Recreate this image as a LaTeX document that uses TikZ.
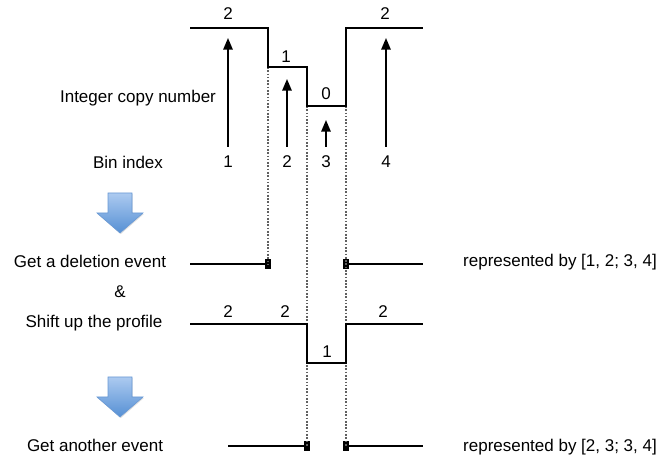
\documentclass[tikz,border=0pt]{standalone}
\usepackage{fontspec}
\setmainfont{Liberation Sans}
\usetikzlibrary{arrows.meta,shadows}
\definecolor{arrowtop}{RGB}{172,202,240}
\definecolor{arrowbot}{RGB}{86,144,212}
\definecolor{arrowrim}{RGB}{104,152,212}

\begin{document}
\begin{tikzpicture}[x=0.03cm,y=-0.03cm,
  txt/.style={inner sep=0,anchor=base,font=\fontsize{14.5}{17}\selectfont},
  prof/.style={line width=1.8pt,line join=miter},
  uparrow/.style={line width=1.6pt,-{Triangle[length=10pt,width=8pt]}},
  guide/.style={line width=1.4pt,gray!75!black,dash pattern=on 1.4pt off 1.4pt},
  seg/.style={line width=1.6pt},
  tickmark/.style={fill=black,inner sep=0,minimum width=0.16cm,minimum height=0.32cm},
  bigarrow/.style={top color=arrowtop,bottom color=arrowbot,draw=arrowrim,line width=0.5pt,
    drop shadow={opacity=0.25,shadow xshift=0.6pt,shadow yshift=-1pt}}]
\useasboundingbox (0,0) rectangle (665,456);

% profile before the event
\coordinate (p1) at (190,28);
\coordinate (p2) at (268,28);
\coordinate (p3) at (268,67);
\coordinate (p4) at (307,67);
\coordinate (p5) at (307,106);
\coordinate (p6) at (346,106);
\coordinate (p7) at (346,28);
\coordinate (p8) at (423,28);

% profile after the shift
\coordinate (q1) at (190,324);
\coordinate (q2) at (307,324);
\coordinate (q3) at (307,363);
\coordinate (q4) at (346,363);
\coordinate (q5) at (346,324);
\coordinate (q6) at (423,324);

% event rows
\coordinate (dL) at (190,264);
\node[tickmark] (dA) at (268,264){};
\node[tickmark] (dB) at (346,264){};
\coordinate (dR) at (423,264);
\coordinate (eL) at (228,446);
\node[tickmark] (eA) at (307,446){};
\node[tickmark] (eB) at (346,446){};
\coordinate (eR) at (423,446);

% dotted guides
\draw[guide] (p3) -- (dA.center);
\draw[guide] (p5) -- (eA.center);
\draw[guide] (p6) -- (eB.center);

\draw[prof] (p1) -- (p2) -- (p3) -- (p4) -- (p5) -- (p6) -- (p7) -- (p8);
\draw[prof] (q1) -- (q2) -- (q3) -- (q4) -- (q5) -- (q6);

\draw[seg] (dL) -- (dA);
\draw[seg] (dB) -- (dR);
\draw[seg] (eL) -- (eA);
\draw[seg] (eB) -- (eR);

% copy number arrows
\coordinate (t1) at (228,147);
\coordinate (h1) at (228,38);
\coordinate (t2) at (287,147);
\coordinate (h2) at (287,79);
\coordinate (t3) at (326,147);
\coordinate (h3) at (326,120);
\coordinate (t4) at (386,147);
\coordinate (h4) at (386,38);
\draw[uparrow] (t1) -- (h1);
\draw[uparrow] (t2) -- (h2);
\draw[uparrow] (t3) -- (h3);
\draw[uparrow] (t4) -- (h4);

% copy numbers
\node[txt] (cn2a) at (228,20){2};
\node[txt] (cn1) at (286,63){1};
\node[txt] (cn0) at (326,100){0};
\node[txt] (cn2b) at (385,20){2};
\node[txt] (cs2a) at (228,318){2};
\node[txt] (cs2b) at (285,318){2};
\node[txt] (cs1) at (327,358){1};
\node[txt] (cs2c) at (383,318){2};

% bin indices
\node[txt] (bin1) at (228,168){1};
\node[txt] (bin2) at (287,168){2};
\node[txt] (bin3) at (326,168){3};
\node[txt] (bin4) at (386,168){4};

% left labels
\node[txt] (ylab) at (138,103){Integer copy number};
\node[txt] (xlab) at (128,169){Bin index};
\node[txt] (get1) at (90,268){Get a deletion event};
\node[txt] (amp) at (120,298){\&};
\node[txt] (shift) at (94,328){Shift up the profile};
\node[txt] (get2) at (95,451){Get another event};

% right labels
\node[txt] (rep1) at (560,267){represented by [1, 2; 3, 4]};
\node[txt] (rep2) at (560,451){represented by [2, 3; 3, 4]};

% block arrows
\path[bigarrow] (108,193) -- (132,193) -- (132,213) -- (143,213) -- (120,233)
  -- (97,213) -- (108,213) -- cycle;
\path[bigarrow] (108,377) -- (132,377) -- (132,397) -- (143,397) -- (120,417)
  -- (97,397) -- (108,397) -- cycle;
\end{tikzpicture}
\end{document}
